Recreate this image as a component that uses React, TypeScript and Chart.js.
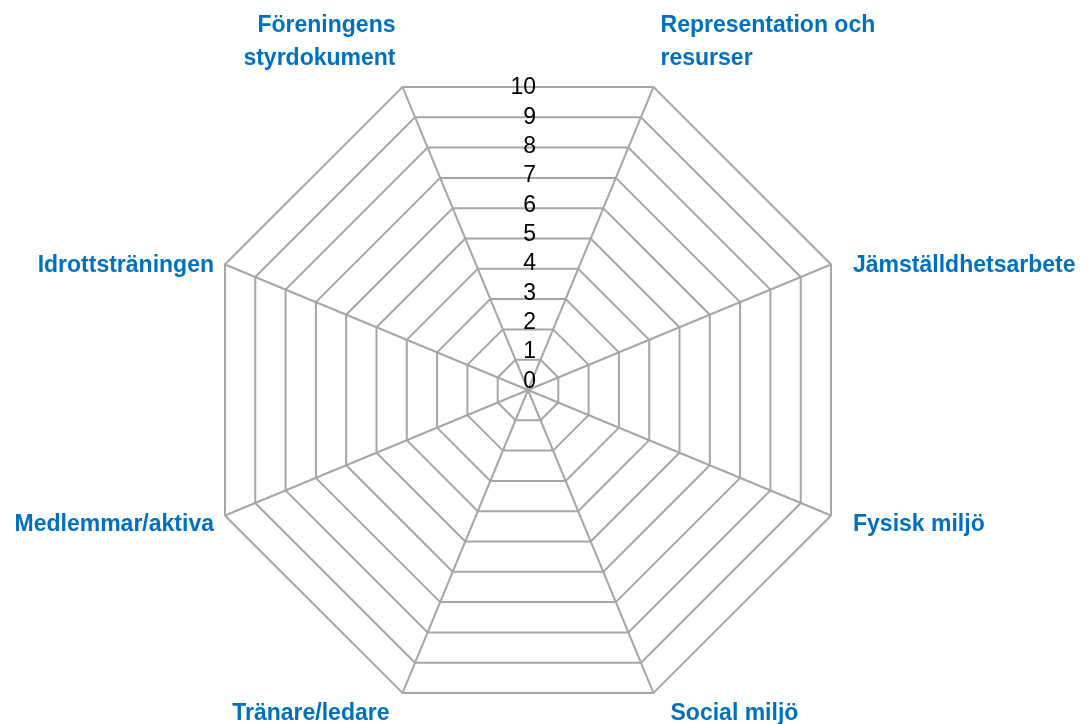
import React, { useEffect, useRef } from "react";
import { Chart, registerables } from "chart.js";

Chart.register(...registerables);

const categories: (string | string[])[] = [
  ["Föreningens", "styrdokument"],
  ["Representation och", "resurser"],
  "Jämställdhetsarbete",
  "Fysisk miljö",
  "Social miljö",
  "Tränare/ledare",
  "Medlemmar/aktiva",
  "Idrottsträningen",
];

const seriesValues = [0, 0, 0, 0, 0, 0, 0, 0];

const tickValues = [0, 1, 2, 3, 4, 5, 6, 7, 8, 9, 10];
const tickLabels = ["0", "1", "2", "3", "4", "5", "6", "7", "8", "9", "10"];

const FONT = '"Liberation Sans", Arial, Helvetica, sans-serif';
const GRID = "#A6A6A6";
const LABEL_BLUE = "#0070C0";

const labelPlugin = {
  id: "customLabels",
  afterDraw(chart: any) {
    const scale = chart.scales.r;
    const ctx: CanvasRenderingContext2D = chart.ctx;
    ctx.save();
    // value tick labels, drawn vertically above the centre
    ctx.font = `23px ${FONT}`;
    ctx.fillStyle = "#000000";
    ctx.textAlign = "right";
    ctx.textBaseline = "middle";
    tickValues.forEach((v, i) => {
      const d = scale.getDistanceFromCenterForValue(v);
      const y = scale.yCenter - 8.5 - d * 0.895;
      ctx.fillText(tickLabels[i], scale.xCenter + 8, y);
    });
    // category labels
    ctx.font = `bold 23px ${FONT}`;
    ctx.fillStyle = LABEL_BLUE;
    ctx.textBaseline = "alphabetic";
    const lineH = 33;
    categories.forEach((lab, i) => {
      const p = scale.getPointPosition(i, scale.drawingArea);
      const lines = Array.isArray(lab) ? lab : [lab];
      const right = p.x > scale.xCenter;
      ctx.textAlign = right ? "left" : "right";
      const dy = p.y - scale.yCenter;
      let x: number;
      let baseFirst: number;
      if (dy < -scale.drawingArea * 0.7) {
        x = p.x + (right ? 7 : -7);
        baseFirst = p.y - 22 - (lines.length - 1) * lineH;
      } else if (dy > scale.drawingArea * 0.7) {
        x = p.x + (right ? 17 : -13);
        baseFirst = p.y + 27;
      } else {
        x = p.x + (right ? 22 : -11);
        baseFirst = p.y + (dy < 0 ? 8 : 15);
      }
      lines.forEach((t, k) => ctx.fillText(t, x, baseFirst + k * lineH));
    });
    ctx.restore();
  },
};

export default function App() {
  const ref = useRef<HTMLCanvasElement | null>(null);
  useEffect(() => {
    if (!ref.current) return;
    const chart = new Chart(ref.current, {
      type: "radar",
      data: {
        labels: categories,
        datasets: [
          {
            label: "Värde",
            data: seriesValues,
            borderWidth: 0,
            pointRadius: 0,
            backgroundColor: "rgba(0,0,0,0)",
            borderColor: "rgba(0,0,0,0)",
          },
        ],
      },
      options: {
        responsive: false,
        maintainAspectRatio: false,
        animation: false,
        layout: { padding: { top: 62, bottom: 6, left: 0, right: 24 } },
        plugins: { legend: { display: false }, tooltip: { enabled: false } },
        scales: {
          r: {
            min: 0,
            max: 10,
            startAngle: -22.5,
            ticks: { display: false, stepSize: 1 },
            pointLabels: { display: false },
            grid: { color: GRID, lineWidth: 2 },
            angleLines: { color: GRID, lineWidth: 2 },
          },
        },
      },
      plugins: [labelPlugin],
    });
    return () => chart.destroy();
  }, []);
  return (
    <div style={{ position: "fixed", left: 0, top: 0, width: 1081, height: 724, background: "#fff" }}>
      <canvas ref={ref} width={1081} height={724} style={{ display: "block" }} />
    </div>
  );
}
